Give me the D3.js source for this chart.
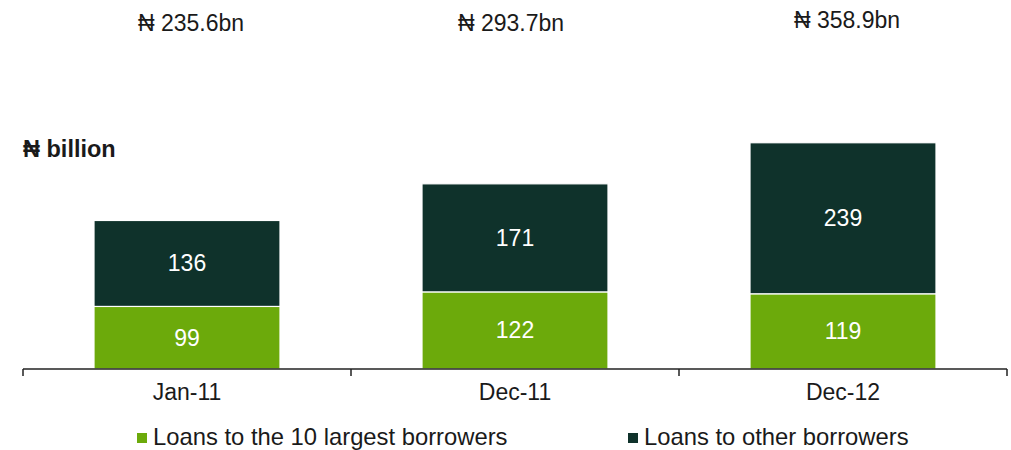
<!DOCTYPE html>
<html>
<head>
<meta charset="utf-8">
<script src="https://cdn.jsdelivr.net/npm/d3@7"></script>
<style>
  html, body { margin: 0; padding: 0; background: #fff; }
  svg { display: block; font-family: "Liberation Sans", Arial, "DejaVu Sans", sans-serif; }
</style>
</head>
<body>
<svg id="chart" width="1011" height="450"></svg>
<script>
// Loan book composition, ₦ billion
const categories = ["Jan-11", "Dec-11", "Dec-12"];
const top10Loans = [99, 122, 119];
const otherLoans = [136, 171, 239];
const totalLabels = ["₦ 235.6bn", "₦ 293.7bn", "₦ 358.9bn"];
const seriesNames = ["Loans to the 10 largest borrowers", "Loans to other borrowers"];
const seriesColors = ["#6caa0b", "#0f322b"];

const svg = d3.select("#chart");
const baseY = 369;
const ink = "#1a1a1a";

const x = d3.scaleBand()
  .domain(categories)
  .range([23, 1007])
  .paddingInner(0.433)
  .paddingOuter(0.2165);

const y = d3.scaleLinear().domain([0, 400]).range([baseY, baseY - 400 * 0.632]);

const rows = categories.map((c, i) => ({ cat: c, top10: top10Loans[i], other: otherLoans[i] }));
const stack = d3.stack().keys(["top10", "other"])(rows);

// stacked segments
const layers = svg.append("g").selectAll("g")
  .data(stack)
  .join("g")
  .attr("fill", (d, i) => seriesColors[i]);

layers.selectAll("rect")
  .data(d => d)
  .join("rect")
  .attr("x", d => x(d.data.cat))
  .attr("width", x.bandwidth())
  .attr("y", d => y(d[1]))
  .attr("height", d => y(d[0]) - y(d[1]))
  .attr("stroke", "#fff")
  .attr("stroke-width", 1.2);

// segment value labels
layers.selectAll("text")
  .data(d => d)
  .join("text")
  .attr("x", d => x(d.data.cat) + x.bandwidth() / 2)
  .attr("y", d => (y(d[0]) + y(d[1])) / 2 + 8)
  .attr("text-anchor", "middle")
  .attr("fill", "#fff")
  .attr("font-size", 23)
  .text(d => d[1] - d[0]);

// totals above the plot
const totalDx = [4, -4, 4];
const totalBase = [31, 31, 28];
svg.append("g").selectAll("text")
  .data(categories)
  .join("text")
  .attr("x", (c, i) => x(c) + x.bandwidth() / 2 + totalDx[i])
  .attr("y", (c, i) => totalBase[i])
  .attr("text-anchor", "middle")
  .attr("font-size", 23)
  .attr("fill", ink)
  .text((c, i) => totalLabels[i]);

// unit title
svg.append("text")
  .attr("x", 23)
  .attr("y", 157)
  .attr("font-size", 23.5)
  .attr("font-weight", "bold")
  .attr("fill", ink)
  .text("₦ billion");

// category axis
const axis = svg.append("g")
  .attr("transform", `translate(0,${baseY})`)
  .call(d3.axisBottom(x).tickSize(0).tickPadding(15));
axis.select(".domain").remove();
axis.selectAll("text")
  .attr("font-size", 23)
  .attr("fill", ink)
  .attr("font-family", "\"Liberation Sans\", Arial, sans-serif");

const step = x.step();
const bounds = [x(categories[0]) - step * x.paddingInner() / 2]
  .concat(categories.map(c => x(c) + x.bandwidth() + step * x.paddingInner() / 2));

svg.append("line")
  .attr("x1", bounds[0]).attr("x2", bounds[bounds.length - 1])
  .attr("y1", baseY).attr("y2", baseY)
  .attr("stroke", "#222").attr("stroke-width", 1.5);

svg.append("g").selectAll("line")
  .data(bounds)
  .join("line")
  .attr("x1", d => d).attr("x2", d => d)
  .attr("y1", baseY).attr("y2", baseY + 7)
  .attr("stroke", "#222").attr("stroke-width", 1.5);

// legend
const legendX = [137, 628];
const legend = svg.append("g").selectAll("g")
  .data(seriesNames)
  .join("g")
  .attr("transform", (d, i) => `translate(${legendX[i]},433)`);
legend.append("rect")
  .attr("width", 10).attr("height", 10)
  .attr("fill", (d, i) => seriesColors[i]);
legend.append("text")
  .attr("x", 16).attr("y", 12)
  .attr("font-size", 23.8)
  .attr("fill", ink)
  .text(d => d);
</script>
</body>
</html>
